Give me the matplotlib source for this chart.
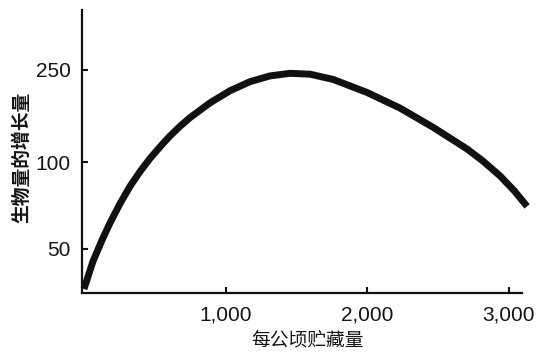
import numpy as np
import matplotlib.pyplot as plt

plt.rcParams['font.family'] = ['Liberation Sans', 'Noto Sans CJK SC', 'DejaVu Sans']

# stock per hectare vs growth of biomass
stock = [0, 64, 127, 184, 254, 325, 396, 466, 551, 608, 678, 749, 890, 1032,
         1173, 1314, 1456, 1597, 1760, 2000, 2233, 2466, 2707, 2820, 2940,
         3040, 3131]
growth = [27.0, 43.0, 55.0, 65.0, 76.0, 86.0, 94.5, 102.0, 110.0, 115.0, 120.5,
          125.5, 134.0, 141.0, 146.2, 149.5, 151.0, 150.5, 147.5, 140.0, 131.0,
          120.0, 107.5, 100.5, 92.0, 83.5, 74.5]

xticks = [1000, 2000, 3000]
xticklabels = ['1,000', '2,000', '3,000']
yticks = [50, 100, 153]
yticklabels = ['50', '100', '250']

fig = plt.figure(figsize=(5.42, 3.53), dpi=100)
ax = fig.add_axes([82 / 542, 1 - 293 / 353, 440 / 542, 283 / 353])

ax.plot(stock, growth, color='#111111', lw=5, solid_capstyle='butt',
        solid_joinstyle='round', clip_on=False)

ax.set_xlim(-14, 3095)
ax.set_ylim(24.7, 187.4)
ax.set_xticks(xticks)
ax.set_xticklabels(xticklabels)
ax.set_yticks(yticks)
ax.set_yticklabels(yticklabels)

for s in ['top', 'right']:
    ax.spines[s].set_visible(False)
for s in ['left', 'bottom']:
    ax.spines[s].set_linewidth(1.6)
    ax.spines[s].set_color('#111111')

ax.tick_params(axis='both', direction='in', length=4, width=1.5, colors='#111111',
               labelsize=15, labelcolor='#151515')
ax.tick_params(axis='y', pad=8)
ax.tick_params(axis='x', pad=9)

fig.text(22 / 542, 1 - 157 / 353, '生物量的增长量', rotation=90, ha='center', va='center',
         fontsize=13.5, fontweight='bold', family=['Noto Sans CJK SC'], color='#151515')
fig.text(308 / 542, 1 - 340 / 353, '每公顷贮藏量', ha='center', va='center',
         fontsize=13.5, fontweight='medium', family=['Noto Sans CJK SC'], color='#151515')

fig.savefig('out.png', dpi=100)
